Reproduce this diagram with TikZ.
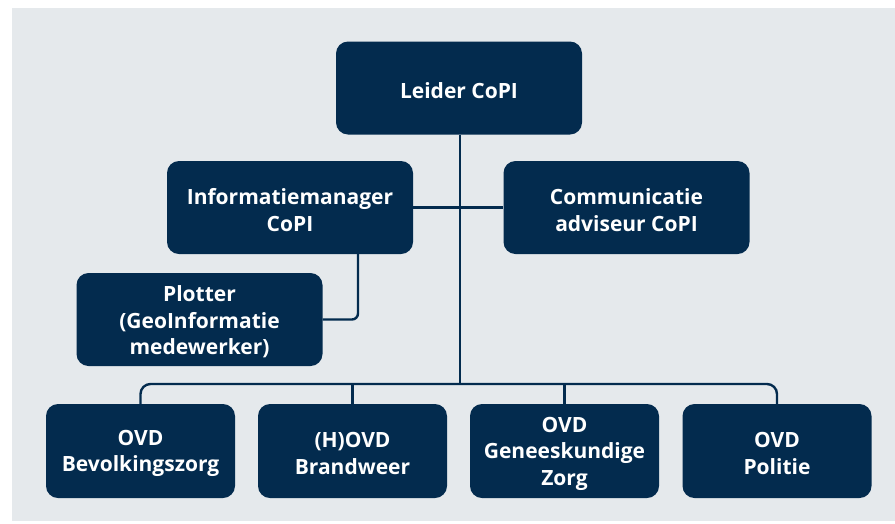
\documentclass[tikz,border=0pt]{standalone}
\usepackage{fontspec}
\setmainfont{Open Sans}
\definecolor{navy}{HTML}{032B4E}
\definecolor{bg}{HTML}{E5E9EC}
\begin{document}
\begin{tikzpicture}[x=1pt,y=-1pt,
  box/.style={draw=none,fill=navy,rounded corners=12pt,inner sep=0pt},
  lbl/.style={text=white,align=center,inner sep=0pt,yshift=-2.5pt,
    font=\fontsize{21}{26.5}\selectfont\bfseries},
  big/.style={box,minimum width=246pt,minimum height=93pt},
  small/.style={box,minimum width=189pt,minimum height=94pt},
  link/.style={draw=navy,line width=2.4pt}]
\useasboundingbox (0,0) rectangle (895,523);
\fill[bg] (12,8) rectangle (895,521);
\node[big,label={[lbl]center:{Leider CoPI}}] (leider) at (459,88) {};
\node[big,label={[lbl]center:{Informatiemanager\\CoPI}}] (info) at (290,207.5) {};
\node[big,label={[lbl]center:{Communicatie\\adviseur CoPI}}] (comm) at (626.5,207.5) {};
\node[big,label={[lbl]center:{Plotter\\(GeoInformatie\\medewerker)}}] (plot) at (199.5,319.5) {};
\node[small,label={[lbl]center:{OVD\\Bevolkingszorg}}] (b1) at (140.5,451) {};
\node[small,label={[lbl]center:{(H)OVD\\Brandweer}}] (b2) at (352.5,451) {};
\node[small,label={[lbl]center:{OVD\\Geneeskundige\\Zorg}}] (b3) at (564.5,451) {};
\node[small,label={[lbl]center:{OVD\\Politie}}] (b4) at (777,451) {};
\coordinate (bus) at (460,384);
\coordinate (plx) at (358,0);
\draw[link] (leider.south -| bus) -- (bus);
\draw[link] (info.east) -- (comm.west);
\draw[link,rounded corners=10pt] (b1.north) -- (b1.north |- bus) -- (b4.north |- bus) -- (b4.north);
\draw[link] (b2.north) -- (b2.north |- bus);
\draw[link] (b3.north) -- (b3.north |- bus);
\draw[link,rounded corners=6pt] (info.south -| plx) |- (plot.east);
\end{tikzpicture}
\end{document}
